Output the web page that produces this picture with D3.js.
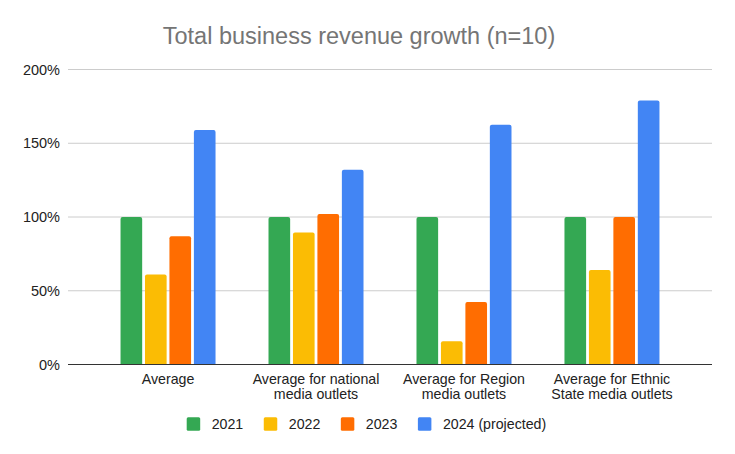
<!DOCTYPE html>
<html>
<head>
<meta charset="utf-8">
<script src="https://cdn.jsdelivr.net/npm/d3@7"></script>
<style>
  html, body { margin: 0; padding: 0; background: #fff; }
  svg { display: block; font-family: "Liberation Sans", Arial, sans-serif; }
</style>
</head>
<body>
<svg id="chart" width="735" height="454"></svg>
<script>
const categories = [
  ["Average"],
  ["Average for national", "media outlets"],
  ["Average for Region", "media outlets"],
  ["Average for Ethnic", "State media outlets"]
];
const seriesNames = ["2021", "2022", "2023", "2024 (projected)"];
const values2021 = [100, 100, 100, 100];
const values2022 = [61, 89.5, 15.7, 64];
const values2023 = [87, 102, 42.4, 100];
const values2024 = [159, 132, 162.5, 179];
const yTicks = [0, 50, 100, 150, 200];
const colors = ["#34a853", "#fbbc04", "#ff6d01", "#4285f4"];

const series = [values2021, values2022, values2023, values2024];
const svg = d3.select("#chart");

const plotLeft = 68, plotRight = 712, plotTop = 69.5, plotBottom = 364.5;

const y = d3.scaleLinear().domain([0, 200]).range([plotBottom, plotTop]);
const catIdx = categories.map((d, i) => i);
const x0 = d3.scaleBand().domain(catIdx).range([plotLeft, plotRight]).paddingInner(0).paddingOuter(0.176);
const groupW = 95;
const x1 = d3.scaleBand().domain(d3.range(series.length)).range([0, groupW]).paddingInner(0.115).paddingOuter(0);

// title
svg.append("text")
  .attr("x", 359).attr("y", 44)
  .attr("text-anchor", "middle")
  .attr("fill", "#757575")
  .attr("font-size", "23.5px")
  .text("Total business revenue growth (n=10)");

// gridlines
svg.append("g").selectAll("line").data(yTicks.filter(t => t !== 0)).join("line")
  .attr("x1", plotLeft).attr("x2", plotRight)
  .attr("y1", d => y(d)).attr("y2", d => y(d))
  .attr("stroke", "#cccccc").attr("stroke-width", 1);

// y tick labels
svg.append("g").selectAll("text").data(yTicks).join("text")
  .attr("x", 60).attr("y", d => y(d) + 5)
  .attr("text-anchor", "end")
  .attr("font-size", "14.5px")
  .attr("fill", "#222")
  .text(d => d + "%");

// bars
function barPath(x, w, y0, y1, r) {
  const h = y0 - y1;
  r = Math.min(r, h / 2, w / 2);
  return `M${x},${y0}V${y1 + r}Q${x},${y1} ${x + r},${y1}H${x + w - r}Q${x + w},${y1} ${x + w},${y1 + r}V${y0}Z`;
}
const barData = [];
catIdx.forEach(ci => {
  series.forEach((s, si) => barData.push({ ci, si, v: s[ci] }));
});
svg.append("g").selectAll("path").data(barData).join("path")
  .attr("d", d => {
    const gx = x0(d.ci) + (x0.bandwidth() - groupW) / 2;
    return barPath(gx + x1(d.si), x1.bandwidth(), y(0), y(d.v), 2);
  })
  .attr("fill", d => colors[d.si]);

// baseline axis
svg.append("line")
  .attr("x1", plotLeft).attr("x2", plotRight)
  .attr("y1", y(0)).attr("y2", y(0))
  .attr("stroke", "#333").attr("stroke-width", 1.2);

// x labels
const xl = svg.append("g").selectAll("text").data(catIdx).join("text")
  .attr("text-anchor", "middle")
  .attr("font-size", "14.2px")
  .attr("fill", "#222");
xl.each(function(ci) {
  const t = d3.select(this);
  categories[ci].forEach((line, li) => {
    t.append("tspan")
      .attr("x", x0(ci) + x0.bandwidth() / 2)
      .attr("y", 383.8 + li * 15.5)
      .text(line);
  });
});

// legend
const legend = svg.append("g");
let lx = 186.7;
seriesNames.forEach((name, i) => {
  legend.append("rect")
    .attr("x", lx).attr("y", 417.3)
    .attr("width", 13.5).attr("height", 13.5)
    .attr("rx", 1.5)
    .attr("fill", colors[i]);
  const t = legend.append("text")
    .attr("x", lx + 25).attr("y", 429)
    .attr("font-size", "14.2px")
    .attr("fill", "#222")
    .text(name);
  lx = lx + 25 + t.node().getComputedTextLength() + 20.5;
});
</script>
</body>
</html>
